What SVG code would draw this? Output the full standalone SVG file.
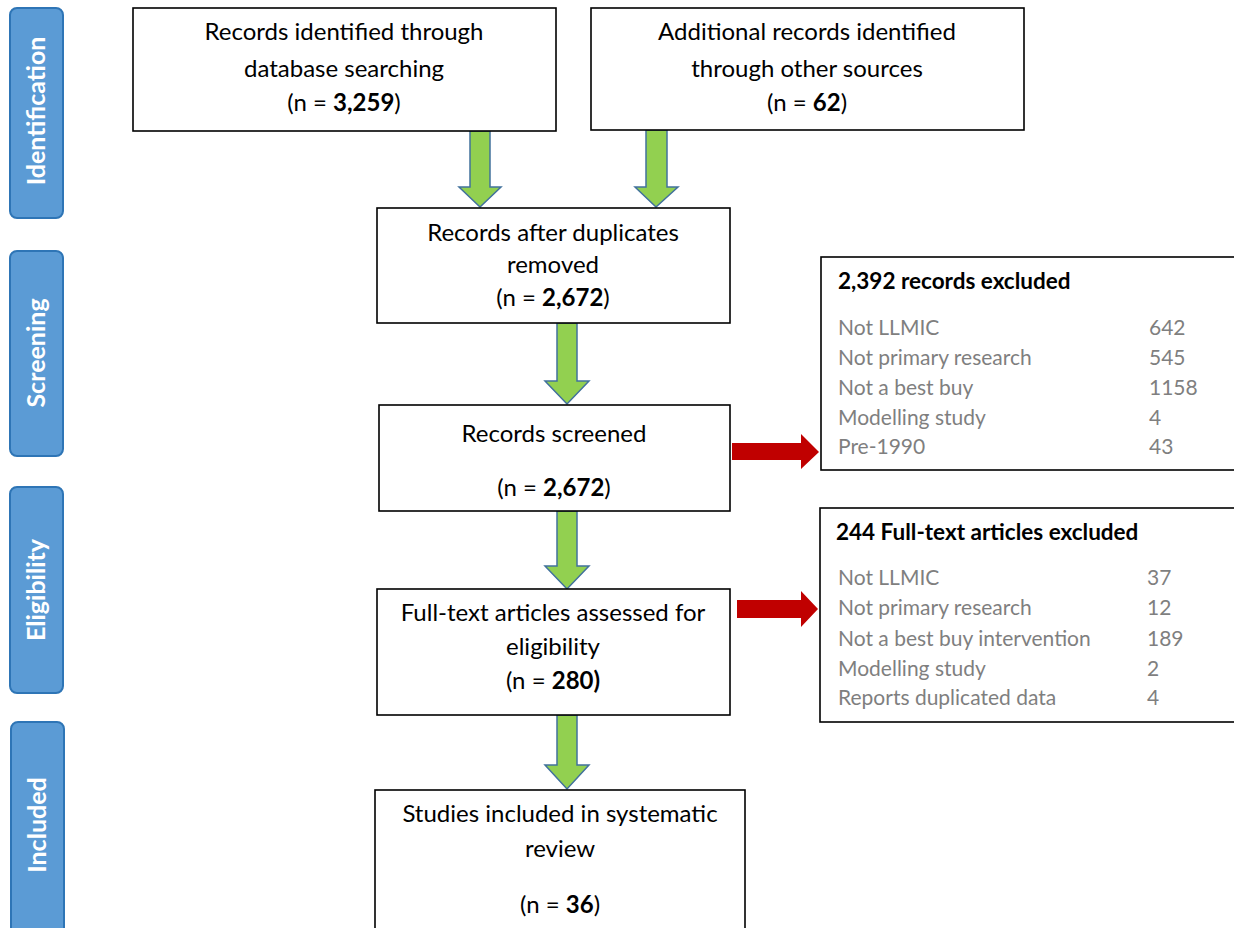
<svg xmlns="http://www.w3.org/2000/svg" width="1234" height="928" viewBox="0 0 1234 928">
<style>
.bar{fill:#5b9bd5;stroke:#2e75b6;stroke-width:2}
.bt{font-family:Lato,"Open Sans",sans-serif;font-weight:bold;font-size:25px;fill:#fff;text-anchor:middle}
.box{fill:#fff;stroke:#000;stroke-width:1.6}
.t{font-family:Lato,"Noto Sans",sans-serif;font-size:24px;fill:#000;text-anchor:middle}
.b{font-weight:bold}
.ht{font-family:Lato,"Noto Sans",sans-serif;font-size:22.5px;font-weight:bold;fill:#000}
.r{font-family:Lato,"Noto Sans",sans-serif;font-size:21px;fill:#7f7f7f}
.ga{fill:#92d050;stroke:#41719c;stroke-width:1.5}
.ra{fill:#c00000}
</style>
<rect width="1234" height="928" fill="#fff"/>
<g id="stage-identification"><rect class="bar" x="10" y="8" width="53" height="210" rx="7"/><text class="bt" transform="translate(45,111) rotate(-90)">Identification</text></g>
<g id="stage-screening"><rect class="bar" x="10" y="251" width="53" height="205" rx="7"/><text class="bt" transform="translate(45,353) rotate(-90)">Screening</text></g>
<g id="stage-eligibility"><rect class="bar" x="10" y="487" width="53" height="206" rx="7"/><text class="bt" transform="translate(45,590) rotate(-90)">Eligibility</text></g>
<g id="stage-included"><rect class="bar" x="11" y="722" width="53" height="215" rx="7"/><text class="bt" transform="translate(46,825) rotate(-90)">Included</text></g>

<g id="connectors">
<path class="ga" d="M470,131 H490 V187 H501 L480,207 L459,187 H470 Z"/>
<path class="ga" d="M646,130 H667 V187 H678 L656,207 L635,187 H646 Z"/>
<path class="ga" d="M557,323 H577 V381 H589 L567,404 L545,381 H557 Z"/>
<path class="ga" d="M557,511 H577 V566 H589 L567,589 L545,566 H557 Z"/>
<path class="ga" d="M557,715 H577 V765 H589 L567,789 L545,765 H557 Z"/>
<path class="ra" d="M732,443 H801 V434 L819,452 L801,469 V460 H732 Z"/>
<path class="ra" d="M737,600 H801 V591 L818,609 L801,627 V618 H737 Z"/>
</g>

<g id="n-database"><rect class="box" x="133" y="8" width="423" height="123"/>
<text class="t" x="344" y="40">Records identified through</text>
<text class="t" x="344" y="77">database searching</text>
<text class="t" x="344" y="111">(n = <tspan class="b">3,259</tspan>)</text></g>
<g id="n-other"><rect class="box" x="591" y="8" width="433" height="122"/>
<text class="t" x="807" y="40">Additional records identified</text>
<text class="t" x="807" y="77">through other sources</text>
<text class="t" x="807" y="111">(n = <tspan class="b">62</tspan>)</text></g>
<g id="n-dedup"><rect class="box" x="377" y="208" width="353" height="115"/>
<text class="t" x="553" y="241">Records after duplicates</text>
<text class="t" x="553" y="273">removed</text>
<text class="t" x="553" y="306">(n = <tspan class="b">2,672</tspan>)</text></g>
<g id="n-screened"><rect class="box" x="379" y="405" width="351" height="106"/>
<text class="t" x="554" y="442">Records screened</text>
<text class="t" x="554" y="496">(n = <tspan class="b">2,672</tspan>)</text></g>
<g id="n-fulltext"><rect class="box" x="377" y="589" width="353" height="126"/>
<text class="t" x="553" y="621">Full-text articles assessed for</text>
<text class="t" x="553" y="655">eligibility</text>
<text class="t" x="553" y="689">(n = <tspan class="b">280)</tspan></text></g>
<g id="n-included"><rect class="box" x="375" y="790" width="370" height="150"/>
<text class="t" x="560" y="822">Studies included in systematic</text>
<text class="t" x="560" y="857">review</text>
<text class="t" x="560" y="913">(n = <tspan class="b">36</tspan>)</text></g>

<g id="n-excl1"><rect class="box" x="821" y="257" width="420" height="213"/>
<text class="ht" x="838" y="289">2,392 records excluded</text>
<text class="r" x="838" y="335">Not LLMIC</text><text class="r" x="1149" y="335">642</text>
<text class="r" x="838" y="365">Not primary research</text><text class="r" x="1149" y="365">545</text>
<text class="r" x="838" y="395">Not a best buy</text><text class="r" x="1149" y="395">1158</text>
<text class="r" x="838" y="425">Modelling study</text><text class="r" x="1149" y="425">4</text>
<text class="r" x="838" y="454">Pre-1990</text><text class="r" x="1149" y="454">43</text></g>
<g id="n-excl2"><rect class="box" x="820" y="508" width="420" height="214"/>
<text class="ht" x="836" y="540">244 Full-text articles excluded</text>
<text class="r" x="838" y="585">Not LLMIC</text><text class="r" x="1147" y="585">37</text>
<text class="r" x="838" y="615">Not primary research</text><text class="r" x="1147" y="615">12</text>
<text class="r" x="838" y="646">Not a best buy intervention</text><text class="r" x="1147" y="646">189</text>
<text class="r" x="838" y="676">Modelling study</text><text class="r" x="1147" y="676">2</text>
<text class="r" x="838" y="705">Reports duplicated data</text><text class="r" x="1147" y="705">4</text></g>
</svg>
